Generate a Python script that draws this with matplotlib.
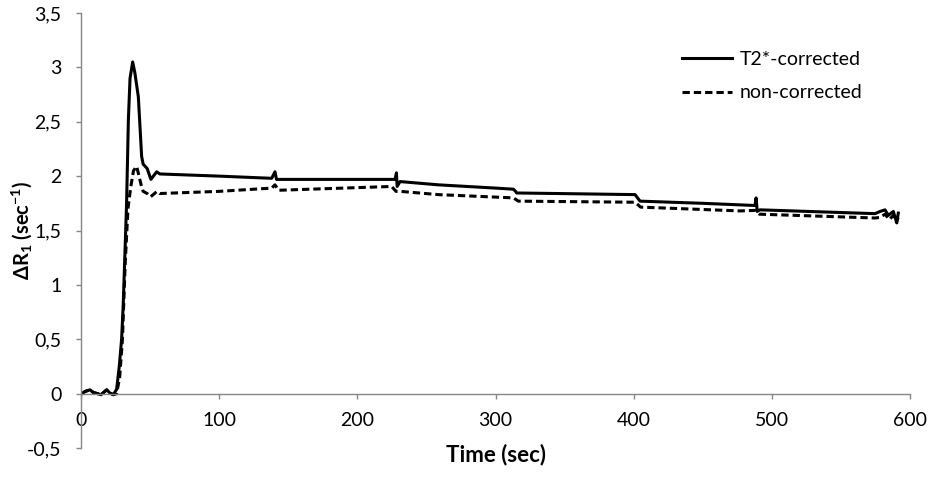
import matplotlib

matplotlib.use("Agg")
import matplotlib.pyplot as plt
from matplotlib.ticker import FixedLocator, FixedFormatter

plt.rcParams["font.family"] = ["Lato", "DejaVu Sans"]
plt.rcParams["mathtext.fontset"] = "custom"
plt.rcParams["mathtext.rm"] = "Lato:bold"
plt.rcParams["mathtext.bf"] = "Lato:bold"

# T2*-corrected curve (time in sec, delta R1 in 1/sec)
t_corr = [0.7, 3, 6.5, 9, 12, 14.5, 18.6, 21, 23.4, 25.8, 27.7, 29.4, 30.6,
          33, 34.3, 35.5, 37.4, 39, 41.5, 43.9, 45, 47.9, 50.6, 54.8, 57,
          100, 138, 140.4, 141.5, 143, 227.3, 228.3, 228.8, 230.9, 258.6,
          300, 312.9, 314.5, 315.3, 345, 401, 404.6, 450, 487.8, 488.6,
          489.4, 491.4, 574.7, 578.3, 581.9, 584.3, 587.9, 590.4, 591.5]
r1_corr = [0.0, 0.02, 0.035, 0.01, 0.0, -0.01, 0.035, 0.005, -0.01, 0.04,
           0.25, 0.5, 0.83, 1.75, 2.52, 2.9, 3.05, 2.95, 2.73, 2.18, 2.11,
           2.07, 1.97, 2.04, 2.02, 2.0, 1.98, 2.04, 1.97, 1.97, 1.97, 2.03,
           1.905, 1.95, 1.92, 1.89, 1.88, 1.86, 1.845, 1.84, 1.83, 1.77,
           1.75, 1.73, 1.80, 1.675, 1.69, 1.655, 1.675, 1.69, 1.64, 1.675,
           1.57, 1.66]

# non-corrected curve
t_non = [0.7, 3, 6.5, 9, 12, 14.5, 18.6, 21, 23.4, 25.8, 28, 30, 32, 34,
         36, 38, 40.3, 42, 43.9, 45, 47.9, 50.4, 55, 57, 100, 138, 140.4,
         143, 224.8, 228, 231, 258.6, 313, 316.5, 401, 405, 477, 488, 491,
         574.7, 578, 582, 585, 588, 590, 591.5]
r1_non = [0.0, 0.02, 0.035, 0.01, 0.0, -0.01, 0.035, 0.005, -0.01, 0.0,
          0.15, 0.5, 1.2, 1.7, 1.9, 2.05, 2.09, 2.0, 1.9, 1.86, 1.84, 1.81,
          1.86, 1.84, 1.86, 1.89, 1.92, 1.87, 1.905, 1.86, 1.86, 1.83,
          1.80, 1.77, 1.76, 1.715, 1.68, 1.685, 1.65, 1.615, 1.62, 1.65,
          1.60, 1.64, 1.58, 1.62]

x_ticks = [0, 100, 200, 300, 400, 500, 600]
y_ticks = [-0.5, 0, 0.5, 1, 1.5, 2, 2.5, 3, 3.5]
y_tick_labels = ["-0,5", "0", "0,5", "1", "1,5", "2", "2,5", "3", "3,5"]

axis_grey = "#868686"

fig = plt.figure(figsize=(9.45, 4.93), dpi=100)
ax = fig.add_axes([0.0857, 0.0913, 0.8773, 0.8823])

ax.plot(t_corr, r1_corr, color="black", lw=2.2, solid_joinstyle="round",
        label="T2*-corrected")
ax.plot(t_non, r1_non, color="black", lw=2.2, linestyle=(0, (2.4, 1.3)),
        label="non-corrected")

ax.set_xlim(0, 600)
ax.set_ylim(-0.5, 3.5)

ax.spines["top"].set_visible(False)
ax.spines["right"].set_visible(False)
ax.spines["bottom"].set_position(("data", 0))
for side in ("left", "bottom"):
    ax.spines[side].set_color(axis_grey)
    ax.spines[side].set_linewidth(1.0)

ax.xaxis.set_major_locator(FixedLocator(x_ticks))
ax.yaxis.set_major_locator(FixedLocator(y_ticks))
ax.yaxis.set_major_formatter(FixedFormatter(y_tick_labels))
ax.tick_params(axis="both", direction="out", length=3.6, width=1.0,
               color=axis_grey, labelsize=14, labelcolor="black")
ax.tick_params(axis="x", pad=9.5)
ax.tick_params(axis="y", pad=10.5)

# axis titles placed by hand (x axis sits at y = 0)
ax.text(-0.0712, 0.5, r"ΔR$_{\mathbf{1}}$ (sec$^{\mathbf{-1}}$)",
        transform=ax.transAxes, rotation=90, ha="center", va="center",
        fontsize=14.5, fontweight="bold")
ax.text(0.5, -0.016, "Time (sec)", transform=ax.transAxes, ha="center",
        va="center", fontsize=16, fontweight="bold")

ax.legend(loc="upper left", bbox_to_anchor=(0.725, 0.913), frameon=False,
          borderpad=0, borderaxespad=0, fontsize=14, handlelength=2.57,
          handletextpad=0.41, labelspacing=0.85)

fig.savefig("out.png", dpi=100)
plt.close(fig)
